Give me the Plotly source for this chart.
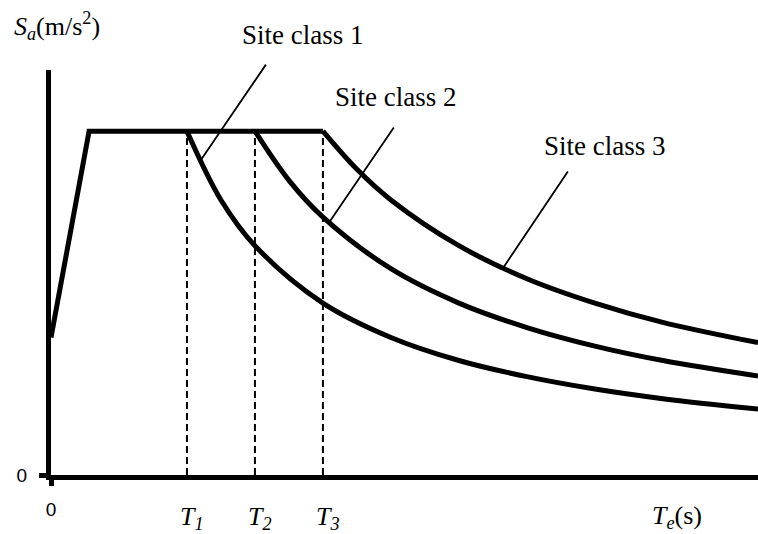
import plotly.graph_objects as go

# Design response spectrum (normalised: plateau value = 1)
site_classes = ["Site class 1", "Site class 2", "Site class 3"]
period_labels = ["T<sub>1</sub>", "T<sub>2</sub>", "T<sub>3</sub>"]
Tg = [1.0, 1.5, 2.0]            # characteristic periods T1, T2, T3
T_rise = 0.28                   # end of the linear rising branch
Sa_start = 0.40                 # spectral value at T = 0
Sa_plateau = 1.0
T_end = 5.2

T_desc = [
    [1.0, 1.25, 1.5, 2.0, 2.5, 3.0, 3.5, 4.0, 4.5, 5.2],
    [1.5, 1.75, 2.0, 2.5, 3.0, 3.5, 4.0, 4.5, 5.2],
    [2.0, 2.25, 2.5, 3.0, 3.5, 4.0, 4.5, 5.2],
]
Sa_desc = [
    [1.00, 0.80, 0.667, 0.50, 0.40, 0.333, 0.286, 0.25, 0.222, 0.192],
    [1.00, 0.857, 0.75, 0.60, 0.50, 0.429, 0.375, 0.333, 0.288],
    [1.00, 0.889, 0.80, 0.667, 0.571, 0.50, 0.444, 0.385],
]

# Leader lines: period where each touches its curve, and the free end
leader_tip_T = [1.096, 2.044, 3.324]
leader_tail = [(1.588, 1.198), (2.529, 1.015), (3.809, 0.887)]
# label centres: x in periods, y in paper units for class 1, data for others
label_x = [1.857, 2.537, 4.074]
label_y = [1.086, 1.0995, 0.958]
label_yref = ["paper", "y", "y"]

serif = "Liberation Serif, Times New Roman, serif"
sans = "Liberation Sans, Arial, sans-serif"
black = "#000000"

fig = go.Figure()

# rising branch and plateau shared by all classes
fig.add_trace(go.Scatter(
    x=[0, T_rise, max(Tg)], y=[Sa_start, Sa_plateau, Sa_plateau],
    mode="lines", line=dict(color=black, width=5), showlegend=False,
    hoverinfo="skip"))

# descending branches
for i, name in enumerate(site_classes):
    fig.add_trace(go.Scatter(
        x=T_desc[i], y=Sa_desc[i], mode="lines", name=name,
        line=dict(color=black, width=5, shape="spline", smoothing=1.0),
        showlegend=False, hoverinfo="skip"))

# dashed markers at T1, T2, T3
for t in Tg:
    fig.add_trace(go.Scatter(
        x=[t, t], y=[0, Sa_plateau], mode="lines",
        line=dict(color=black, width=2, dash="7px,4px"),
        showlegend=False, hoverinfo="skip"))

annotations = []
for i, name in enumerate(site_classes):
    t = leader_tip_T[i]
    sa = Tg[i] / t
    tx, ty = leader_tail[i]
    annotations.append(dict(
        x=t, y=sa, xref="x", yref="y", ax=tx, ay=ty, axref="x", ayref="y",
        text="", showarrow=True, arrowhead=0, arrowwidth=1.8,
        arrowcolor=black, standoff=0, startstandoff=0))
    annotations.append(dict(
        x=label_x[i], y=label_y[i], xref="x", yref=label_yref[i],
        text=name, showarrow=False,
        font=dict(family=serif, size=27, color=black),
        xanchor="center", yanchor="middle"))

for t, lab in zip(Tg, period_labels):
    annotations.append(dict(
        x=t, y=0, xref="x", yref="y", text="<i>" + lab + "</i>",
        showarrow=False, xanchor="center", yanchor="middle", yshift=-43, xshift=5,
        font=dict(family=serif, size=26, color=black)))

annotations.append(dict(
    x=0.0, y=1.0, xref="paper", yref="paper",
    text="<i>S</i><sub><i>a</i></sub>(m/s<sup>2</sup>)", showarrow=False,
    xanchor="center", yanchor="bottom", xshift=6, yshift=24,
    font=dict(family=serif, size=26, color=black)))

annotations.append(dict(
    x=1.0, y=0.0, xref="paper", yref="paper",
    text="<i>T</i><sub><i>e</i></sub>(s)", showarrow=False,
    xanchor="center", yanchor="middle", xshift=-81, yshift=-42,
    font=dict(family=serif, size=26, color=black)))

fig.update_layout(
    width=758, height=534,
    margin=dict(l=51, r=0, t=70, b=59),
    plot_bgcolor="white", paper_bgcolor="white",
    annotations=annotations,
    xaxis=dict(range=[0, T_end], showgrid=False, zeroline=False,
               showline=True, linewidth=5, linecolor=black,
               tickmode="array", tickvals=[0], ticktext=["0"],
               ticks="outside", ticklen=6, tickwidth=5, tickcolor=black,
               tickfont=dict(family=sans, size=19, color=black),
               ticklabelstandoff=7),
    yaxis=dict(range=[0, 1.178], showgrid=False, zeroline=False,
               showline=True, linewidth=5, linecolor=black,
               tickmode="array", tickvals=[0], ticktext=["0"],
               ticks="outside", ticklen=7, tickwidth=5, tickcolor=black,
               tickfont=dict(family=sans, size=19, color=black),
               ticklabelstandoff=8),
)

fig.write_html("out.html")
